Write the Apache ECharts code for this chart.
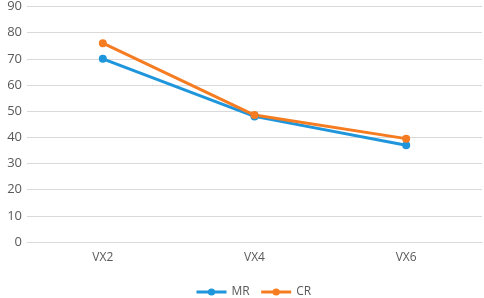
<!DOCTYPE html>
<html>
<head>
<meta charset="UTF-8">
<title>MR CR</title>
<style>
  html, body { margin: 0; padding: 0; background: #fff; }
  #chart { width: 484px; height: 298px; }
</style>
<script src="https://cdn.jsdelivr.net/npm/echarts@6.0.0/dist/echarts.min.js"></script>
</head>
<body>
<div id="chart"></div>
<script>
var categories = ['VX2', 'VX4', 'VX6'];
var mrValues = [70, 48, 37];
var crValues = [76, 48.5, 39.5];

var chart = echarts.init(document.getElementById('chart'));
var textColor = '#595959';
var gridColor = '#d9d9d9';

chart.setOption({
    animation: false,
    textStyle: { fontFamily: 'Open Sans' },
    grid: { left: 27, right: 2, top: 6, bottom: 56 },
    legend: {
        top: 281,
        left: 190,
        itemWidth: 30,
        itemHeight: 9,
        itemGap: 10,
        lineStyle: { width: 3 },
        textStyle: { color: textColor, fontSize: 12 },
        data: ['MR', 'CR']
    },
    xAxis: {
        type: 'category',
        data: categories,
        axisLine: { lineStyle: { color: gridColor } },
        axisTick: { show: false },
        axisLabel: { color: textColor, fontSize: 12, margin: 10 }
    },
    yAxis: {
        type: 'value',
        min: 0,
        max: 90,
        interval: 10,
        axisLine: { show: false },
        axisTick: { show: false },
        axisLabel: { color: textColor, fontSize: 13, margin: 5 },
        splitLine: { lineStyle: { color: gridColor, width: 1 } }
    },
    series: [
        {
            name: 'MR',
            type: 'line',
            data: mrValues,
            symbol: 'circle',
            symbolSize: 8,
            lineStyle: { width: 3, color: '#1f96db' },
            itemStyle: { color: '#1f96db' }
        },
        {
            name: 'CR',
            type: 'line',
            data: crValues,
            symbol: 'circle',
            symbolSize: 8,
            lineStyle: { width: 3, color: '#f57c21' },
            itemStyle: { color: '#f57c21' }
        }
    ]
});
</script>
</body>
</html>
